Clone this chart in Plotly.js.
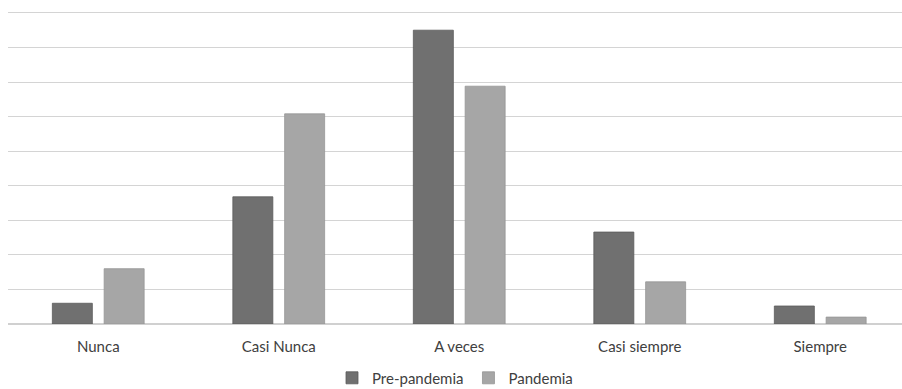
<!DOCTYPE html>
<html>
<head>
<meta charset="utf-8">
<script src="https://cdn.plot.ly/plotly-3.0.1.min.js"></script>
<style>html,body{margin:0;padding:0;background:#fff;}#chart{width:902px;height:389px;}</style>
</head>
<body>
<div id="chart"></div>
<script>
var categories = ["Nunca", "Casi Nunca", "A veces", "Casi siempre", "Siempre"];
var prePandemia = [3.0, 18.4, 42.5, 13.3, 2.6];
var pandemia = [8.0, 30.4, 34.4, 6.1, 1.0];
var seriesNames = ["Pre-pandemia", "Pandemia"];
var yTickValues = [0, 5, 10, 15, 20, 25, 30, 35, 40, 45];

var gridColor = "#d4d4d4";

var traces = [
  {type: "bar", name: seriesNames[0], x: categories, y: prePandemia,
   marker: {color: "#707070", line: {color: "#5a5a5a", width: 0.8}}},
  {type: "bar", name: seriesNames[1], x: categories, y: pandemia,
   marker: {color: "#a6a6a6", line: {color: "#959595", width: 0.8}}}
];

var layout = {
  width: 902, height: 389,
  margin: {l: 8, r: 0, t: 6, b: 65, autoexpand: false},
  paper_bgcolor: "#ffffff", plot_bgcolor: "#ffffff",
  font: {family: "Lato, 'Open Sans', sans-serif", size: 15, color: "#404040"},
  barmode: "group",
  bargap: 0.426,
  bargroupgap: 0.228,
  showlegend: true,
  legend: {orientation: "h", x: 0.5, xanchor: "center", y: -0.17, yanchor: "middle",
           font: {size: 15, color: "#404040"}, itemwidth: 20},
  xaxis: {type: "category", range: [-0.5, 4.453], showgrid: false, zeroline: false,
          showline: false, ticks: "", ticklabelstandoff: 12, tickfont: {size: 15, color: "#404040"}},
  yaxis: {range: [0, 46], tickmode: "array", tickvals: yTickValues, showticklabels: false, showgrid: true,
          gridcolor: gridColor, gridwidth: 1, zeroline: true, zerolinecolor: "#d0d0d0",
          zerolinewidth: 1.5, showline: false, ticks: ""}
};

var gd = document.getElementById("chart");
function gridCount() { return gd.querySelectorAll("path.ygrid").length; }

Plotly.newPlot(gd, traces, layout, {displayModeBar: false, staticPlot: true}).then(function () {
  var expected = yTickValues.filter(function (v) { return v > 0; });
  if (gridCount() < expected.length) {
    var shapes = expected.map(function (v) {
      return {type: "line", xref: "paper", x0: 0, x1: 1, yref: "y", y0: v, y1: v,
              layer: "below", line: {color: gridColor, width: 1}};
    });
    return Plotly.relayout(gd, {shapes: shapes});
  }
});
</script>
</body>
</html>
